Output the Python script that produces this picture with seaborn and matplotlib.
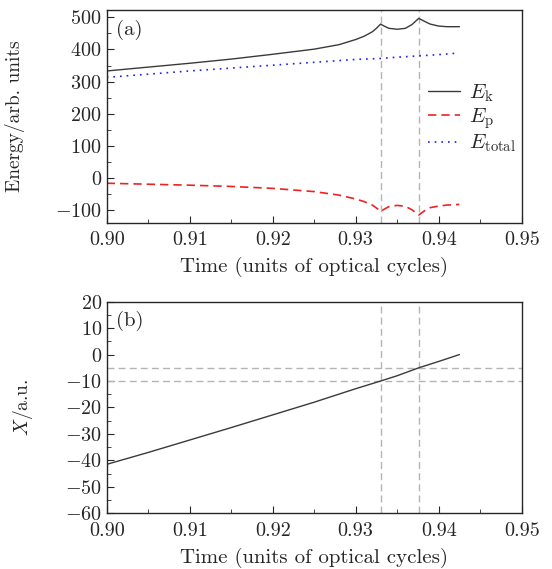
import numpy as np
import pandas as pd
import matplotlib
matplotlib.use("Agg")
import matplotlib.pyplot as plt
from matplotlib.ticker import MultipleLocator, FormatStrFormatter
import seaborn as sns

# panel (a): energies vs time
t_k = [0.900, 0.905, 0.910, 0.915, 0.920, 0.925, 0.928, 0.930, 0.931, 0.932, 0.9325, 0.933,
       0.9335, 0.934, 0.935, 0.936, 0.9368, 0.9376, 0.9385, 0.939, 0.940, 0.941, 0.9425]
e_k = [333, 345, 357, 370, 385, 401, 415, 431, 441, 455, 466, 479,
       472, 466, 463, 466, 478, 497, 485, 479, 473, 471, 471]

t_p = [0.900, 0.905, 0.910, 0.915, 0.920, 0.925, 0.928, 0.930, 0.931, 0.932, 0.9325, 0.933,
       0.9335, 0.934, 0.935, 0.936, 0.9368, 0.9376, 0.9385, 0.939, 0.940, 0.941, 0.9425]
e_p = [-17, -20, -23, -27, -33, -43, -54, -66, -74, -85, -94, -105,
       -97, -90, -86, -89, -100, -116, -99, -93, -88, -85, -83]

t_tot = [0.900, 0.905, 0.910, 0.915, 0.920, 0.925, 0.930, 0.933, 0.935, 0.9376, 0.940, 0.942]
e_tot = [313, 323, 333, 342, 351, 360, 369, 372, 376, 380, 384, 388]

# panel (b): position vs time
t_x = [0.900, 0.905, 0.910, 0.915, 0.920, 0.925, 0.930, 0.933, 0.935, 0.9376, 0.940, 0.9425]
x_pos = [-41.5, -37.0, -32.3, -27.6, -22.8, -18.0, -12.9, -10.0, -8.0, -5.0, -2.6, 0.0]

t_marks = [0.9330, 0.9376]
x_marks = [-5, -10]

sns.set_style("ticks")
plt.rcParams["font.family"] = ["cmr10"]
plt.rcParams["mathtext.fontset"] = "cm"
plt.rcParams["axes.formatter.use_mathtext"] = True
plt.rcParams["xtick.direction"] = "in"
plt.rcParams["ytick.direction"] = "in"
plt.rcParams["font.size"] = 15

fig = plt.figure(figsize=(5.52, 5.69), dpi=100)
ax1 = fig.add_axes([0.1933, 0.6086, 0.7517, 0.3738])
ax2 = fig.add_axes([0.1933, 0.0979, 0.7517, 0.3719])

grey = "#b4b4b4"
dash = (0, (5, 3))

# --- (a)
for tm in t_marks:
    ax1.axvline(tm, color=grey, ls=dash, lw=1.0, zorder=1)
sns.lineplot(x=t_k, y=e_k, ax=ax1, color="#3a3a3a", lw=1.0, label=r"$E_{\rm k}$")
sns.lineplot(x=t_p, y=e_p, ax=ax1, color="#ee2222", lw=1.2, ls=dash, label=r"$E_{\rm p}$")
sns.lineplot(x=t_tot, y=e_tot, ax=ax1, color="#2020ee", lw=1.2, ls=(0, (1, 3)), label=r"$E_{\rm total}$")
ax1.set_xlim(0.90, 0.95)
ax1.set_ylim(-140, 523)
ax1.yaxis.set_major_locator(MultipleLocator(100))
ax1.yaxis.set_minor_locator(MultipleLocator(50))
ax1.set_ylabel("Energy/arb. units", fontsize=14)
ax1.yaxis.set_label_coords(-0.197, 0.5)
ax1.text(0.022, 0.955, "(a)", transform=ax1.transAxes, ha="left", va="top", fontsize=15)
ax1.legend(loc="center left", bbox_to_anchor=(0.73, 0.49), frameon=False,
           handlelength=1.5, handletextpad=0.45, labelspacing=0.1, fontsize=15)

# --- (b)
for tm in t_marks:
    ax2.axvline(tm, color=grey, ls=dash, lw=1.0, zorder=1)
for xm in x_marks:
    ax2.axhline(xm, color=grey, ls=dash, lw=1.0, zorder=1)
sns.lineplot(x=t_x, y=x_pos, ax=ax2, color="#3a3a3a", lw=1.0)
ax2.set_xlim(0.90, 0.95)
ax2.set_ylim(-60, 20)
ax2.yaxis.set_major_locator(MultipleLocator(10))
ax2.yaxis.set_minor_locator(MultipleLocator(5))
ax2.set_ylabel(r"$X$/a.u.", fontsize=14)
ax2.yaxis.set_label_coords(-0.173, 0.5)
ax2.text(0.022, 0.955, "(b)", transform=ax2.transAxes, ha="left", va="top", fontsize=15)

for ax in (ax1, ax2):
    ax.xaxis.set_major_locator(MultipleLocator(0.01))
    ax.xaxis.set_minor_locator(MultipleLocator(0.005))
    ax.xaxis.set_major_formatter(FormatStrFormatter("%.2f"))
    ax.set_xlabel("Time (units of optical cycles)", labelpad=6)
    for s in ax.spines.values():
        s.set_linewidth(1.0)
        s.set_visible(True)
    ax.tick_params(which="major", length=5, labelsize=14.5)
    ax.tick_params(which="minor", length=3)
    ax.tick_params(axis="x", pad=6)

fig.savefig("out.png", dpi=100)
